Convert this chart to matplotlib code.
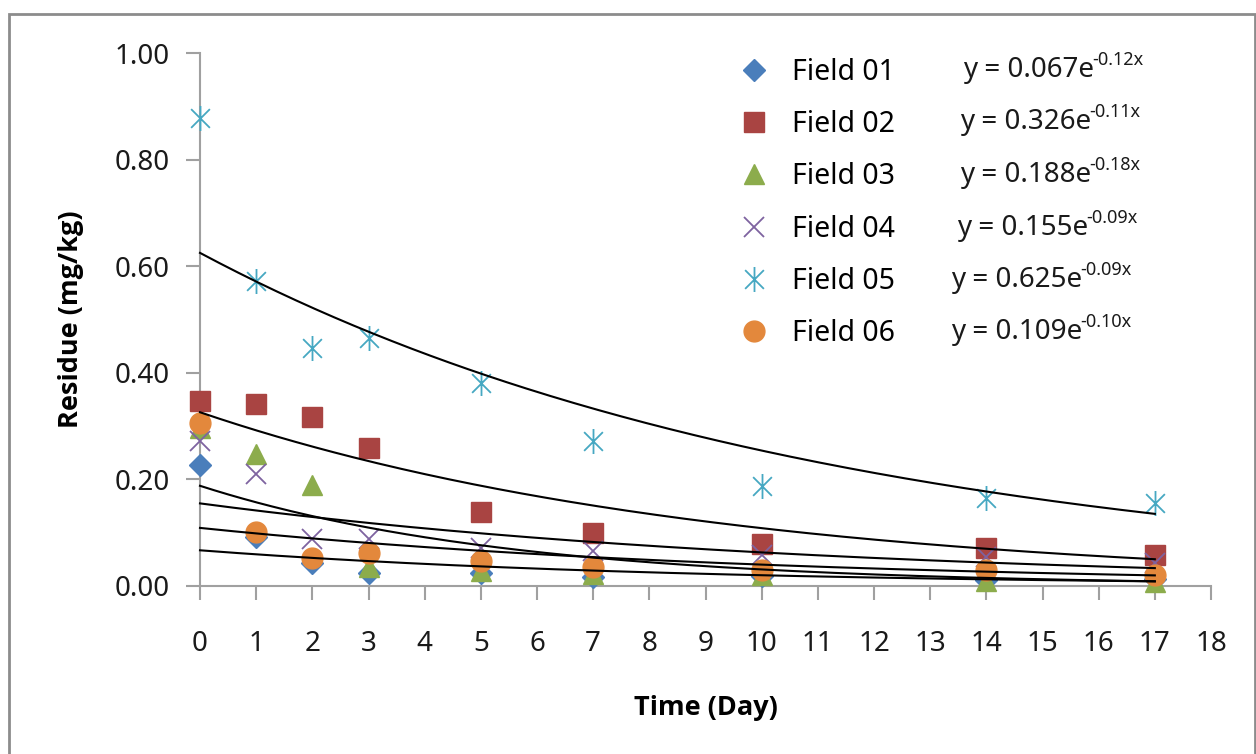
import numpy as np
import matplotlib
matplotlib.use("Agg")
import matplotlib.pyplot as plt
from matplotlib.path import Path
from matplotlib.patches import Rectangle

plt.rcParams['font.family'] = ['Noto Sans', 'DejaVu Sans']

# sampling days
days = [0, 1, 2, 3, 5, 7, 10, 14, 17]

# residues (mg/kg)
field01 = [0.227, 0.092, 0.043, 0.024, 0.024, 0.016, 0.018, 0.012, 0.014]
field02 = [0.347, 0.342, 0.317, 0.259, 0.139, 0.099, 0.079, 0.071, 0.058]
field03 = [0.296, 0.248, 0.190, 0.036, 0.028, 0.022, 0.020, 0.010, 0.007]
field04 = [0.272, 0.210, 0.088, 0.088, 0.072, 0.066, 0.058, 0.054, 0.043]
field05 = [0.878, 0.572, 0.447, 0.465, 0.380, 0.272, 0.187, 0.165, 0.156]
field06 = [0.306, 0.101, 0.053, 0.062, 0.047, 0.036, 0.030, 0.030, 0.021]

labels = ['Field 01', 'Field 02', 'Field 03', 'Field 04', 'Field 05', 'Field 06']
coef_a = [0.067, 0.326, 0.188, 0.155, 0.625, 0.109]
coef_b = [0.12, 0.11, 0.18, 0.09, 0.09, 0.10]
eq_text = ['0.067', '0.326', '0.188', '0.155', '0.625', '0.109']
eq_exp = ['-0.12x', '-0.11x', '-0.18x', '-0.09x', '-0.09x', '-0.10x']

# asterisk marker: vertical bar plus an X
star = Path([(0, -1), (0, 1), (-0.75, -0.75), (0.75, 0.75), (-0.75, 0.75), (0.75, -0.75)],
            [Path.MOVETO, Path.LINETO, Path.MOVETO, Path.LINETO, Path.MOVETO, Path.LINETO])

styles = [
    dict(marker='D', color='#4a7ebb', ms=11),
    dict(marker='s', color='#a94442', ms=14),
    dict(marker='^', color='#8cac4c', ms=14),
    dict(marker='x', color='#7e63a0', ms=14, mew=1.3),
    dict(marker=star, color='#46a8c2', ms=18, mew=1.3),
    dict(marker='o', color='#e3883c', ms=15),
]

fig = plt.figure(figsize=(12.56, 7.54), dpi=100)
ax = fig.add_axes([200 / 1256, 1 - 586 / 754, 1011 / 1256, 533 / 754])

series = [field01, field02, field03, field04, field05, field06]
handles = []
for vals, st, lab in zip(series, styles, labels):
    h, = ax.plot(days, vals, linestyle='none', marker=st['marker'], ms=st['ms'],
                 color=st['color'], mec=st['color'], mew=st.get('mew', 1.0),
                 clip_on=False, zorder=3, label=lab)
    handles.append(h)

xs = np.linspace(0, 17, 200)
for a, b in zip(coef_a, coef_b):
    ax.plot(xs, a * np.exp(-b * xs), color='black', lw=1.5, zorder=4, clip_on=False)

ax.set_xlim(0, 18)
ax.set_ylim(0, 1.0)
ax.set_xticks(range(0, 19))
ax.set_yticks(np.arange(0, 1.01, 0.2))
ax.set_yticklabels(['%.2f' % v for v in np.arange(0, 1.01, 0.2)])
for s in ['top', 'right']:
    ax.spines[s].set_visible(False)
for s in ['left', 'bottom']:
    ax.spines[s].set_color('#a0a0a0')
    ax.spines[s].set_linewidth(1.5)
ax.tick_params(axis='both', colors='#a0a0a0', length=10, width=1.5, labelsize=20,
               labelcolor='#1a1a1a')
ax.tick_params(axis='x', pad=22)
ax.tick_params(axis='y', pad=12)

lab_font = dict(family=['Open Sans', 'DejaVu Sans'], fontsize=19.5, fontweight='bold')
ax.set_xlabel('Time (Day)', labelpad=26, **lab_font)
ax.set_ylabel('Residue (mg/kg)', labelpad=22, **lab_font)

leg = fig.legend(handles=handles, loc='upper left', bbox_to_anchor=(711 / 1256, 1 - 32 / 754),
                 frameon=False, fontsize=20.5, labelspacing=0.82, handletextpad=0.75,
                 handlelength=1.2)

eq_x = [963, 960, 960, 957, 951, 951]
row_y = [70, 122, 175, 228, 280, 332]
fig.canvas.draw()
renderer = fig.canvas.get_renderer()
for x, y, t, e in zip(eq_x, row_y, eq_text, eq_exp):
    base = fig.text(x / 1256, 1 - y / 754, 'y = ' + t + 'e', fontsize=20,
                    va='center', ha='left', color='#1a1a1a')
    bb = base.get_window_extent(renderer)
    fig.text((bb.x1 - 2) / 1256, (754 - y + 10) / 754, e, fontsize=13,
             va='center', ha='left', color='#1a1a1a')

fig.patches.append(Rectangle((9 / 1256, -0.1), (1255 - 9) / 1256, 1.1 - 14 / 754,
                             transform=fig.transFigure, fill=False,
                             edgecolor='#8c8c8c', lw=2))

fig.savefig('out.png', dpi=100)
